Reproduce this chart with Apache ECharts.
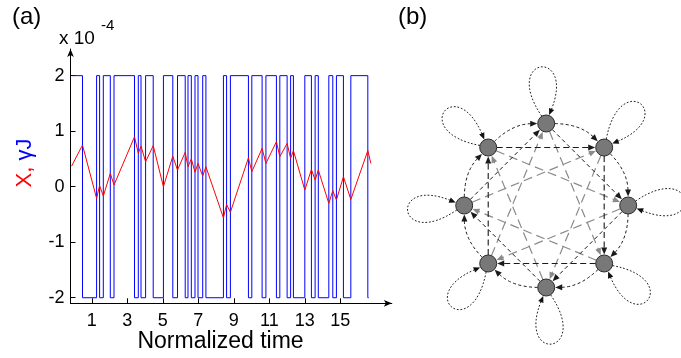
<!DOCTYPE html>
<html><head><meta charset="utf-8">
<script src="https://cdn.jsdelivr.net/npm/echarts@6/dist/echarts.min.js"></script>
<style>html,body{margin:0;padding:0;background:#fff}#c{width:681px;height:358px}</style>
</head><body><div id="c"></div>
<script>
// ---------- panel (a) data ----------
const blueTimes = [-0.14, 0.476, 1.27, 1.439, 1.648, 2.042, 2.251, 3.406, 3.62, 3.772, 4.031, 4.459, 5.034, 5.563, 5.828, 6.262, 6.42, 6.606, 6.814, 6.983, 7.248, 7.428,
  8.414, 8.594, 8.808, 9.823, 10.014, 10.594, 10.808, 11.4, 11.592, 12.003, 12.2, 12.358, 13.0, 13.372, 13.58, 13.76, 14.352, 14.577, 14.78, 15.175, 15.592, 16.549, 16.6];
const blueLevels = [2, -2, 2, -2, 2, -2, 2, -2, 2, -2, 2, -2, 2, -2, 2, -2, 2, -2, 2, -2, 2, -2,
  2, -2, 2, -2, 2, -2, 2, -2, 2, -2, 2, -2, 2, -2, 2, -2, 2, -2, 2, -2, 2, -2, -2];
const redTimes = [-0.14, 0.476, 1.27, 1.439, 1.648, 2.042, 2.251, 3.406, 3.62, 3.772, 4.031, 4.459, 5.034, 5.563, 5.828, 6.262, 6.42, 6.606, 6.814, 6.983, 7.248, 7.428,
  8.414, 8.594, 8.808, 9.823, 10.014, 10.594, 10.808, 11.4, 11.592, 12.003, 12.2, 12.358, 13.0, 13.372, 13.58, 13.76, 14.352, 14.577, 14.78, 15.175, 15.592, 16.549, 16.72];
const redValues = [0.37, 0.75, -0.21, 0.02, -0.17, 0.24, 0.03, 0.9, 0.6, 0.73, 0.45, 0.74, 0.0, 0.55, 0.3, 0.62, 0.36, 0.5, 0.26, 0.42, 0.19, 0.36,
  -0.56, -0.32, -0.46, 0.52, 0.27, 0.69, 0.42, 0.81, 0.54, 0.78, 0.51, 0.65, -0.06, 0.31, 0.12, 0.3, -0.3, -0.07, -0.24, 0.18, -0.23, 0.65, 0.42];
const xTickValues = [1, 3, 5, 7, 9, 11, 13, 15];
const yTickValues = [-2, -1, 0, 1, 2];

// ---------- panel (b) data ----------
const nodeNames = ['1', '2', '3', '4', '5', '6', '7', '8'];
const nodeAngles = [90, 45, 0, -45, -90, -135, 180, 135];
const ringLinks = [[0, 1], [1, 2], [2, 3], [3, 4], [4, 5], [5, 6], [6, 7], [7, 0]];
const squareLinks = [[7, 1], [1, 3], [3, 5], [5, 7]];
const diamondLinks = [[6, 0], [0, 2], [2, 4], [4, 6]];
const starLinks = [[5, 0], [6, 1], [7, 2], [0, 3], [1, 4], [2, 5], [3, 6], [4, 7]];
const selfLoops = [0, 1, 2, 3, 4, 5, 6, 7];

const FONT = "'Liberation Sans', Arial, Helvetica, sans-serif";
const chart = echarts.init(document.getElementById('c'));
const bluePoints = blueTimes.map((t, i) => [t, blueLevels[i]]);
const redPoints = redTimes.map((t, i) => [t, redValues[i]]);
const nodePos = nodeAngles.map(a => [Math.cos(a * Math.PI / 180), Math.sin(a * Math.PI / 180)]);
const NODE_R = 8.5;

function unit(a, b) { const x = b[0] - a[0], y = b[1] - a[1], l = Math.hypot(x, y) || 1; return [x / l, y / l]; }
function arrowHead(E, u, len, w, color) {
  const B = [E[0] - u[0] * len, E[1] - u[1] * len], n = [-u[1], u[0]];
  return { type: 'polygon', shape: { points: [E, [B[0] + n[0] * w, B[1] + n[1] * w], [B[0] - n[0] * w, B[1] - n[1] * w]] },
    style: { fill: color, stroke: null } };
}
function edgeRenderer(st) {
  return function (params, api) {
    const s = api.value(0), d = api.value(1);
    const P1 = api.coord(nodePos[s]), P2 = api.coord(nodePos[d]), O = api.coord([0, 0]);
    const len = Math.hypot(P2[0] - P1[0], P2[1] - P1[1]);
    const M = [(P1[0] + P2[0]) / 2, (P1[1] + P2[1]) / 2];
    let C = M;
    if (st.curv) {
      const nv = unit(O, M);
      C = [M[0] + nv[0] * st.curv * len, M[1] + nv[1] * st.curv * len];
    }
    const u1 = unit(P1, C), u2 = unit(C, P2);
    const S = [P1[0] + u1[0] * NODE_R, P1[1] + u1[1] * NODE_R];
    const E = [P2[0] - u2[0] * (NODE_R + 0.5), P2[1] - u2[1] * (NODE_R + 0.5)];
    const B = [E[0] - u2[0] * (st.al - 1), E[1] - u2[1] * (st.al - 1)];
    const style = { stroke: st.color, lineWidth: st.width, lineDash: st.dash, fill: null };
    const line = st.curv
      ? { type: 'bezierCurve', shape: { x1: S[0], y1: S[1], cpx1: C[0], cpy1: C[1], x2: B[0], y2: B[1] }, style }
      : { type: 'line', shape: { x1: S[0], y1: S[1], x2: B[0], y2: B[1] }, style };
    return { type: 'group', children: [line, arrowHead(E, u2, st.al, st.aw, st.color)] };
  };
}
function loopRenderer(params, api) {
  const k = api.value(0);
  const P = api.coord(nodePos[k]), O = api.coord([0, 0]);
  const phi = Math.atan2(P[1] - O[1], P[0] - O[0]) - 6 * Math.PI / 180;
  const d2r = Math.PI / 180, L = 82;
  const at = (r, a) => [P[0] + r * Math.cos(a), P[1] + r * Math.sin(a)];
  const P0 = at(NODE_R, phi - 25 * d2r), P3 = at(NODE_R + 0.5, phi + 25 * d2r);
  const C1 = at(L, phi - 28 * d2r), C2 = at(L, phi + 28 * d2r);
  const u = unit(C2, P3);
  const B = [P3[0] - u[0] * 5, P3[1] - u[1] * 5];
  return { type: 'group', children: [
    { type: 'bezierCurve', shape: { x1: P0[0], y1: P0[1], cpx1: C1[0], cpy1: C1[1], cpx2: C2[0], cpy2: C2[1], x2: B[0], y2: B[1] },
      style: { stroke: '#222', lineWidth: 1, lineDash: [1.8, 1.8], fill: null } },
    arrowHead(P3, u, 6.5, 2.8, '#111')
  ] };
}

const option = {
  animation: false,
  grid: [
    { left: 70.5, top: 49, width: 321.3, height: 254.3 },
    { left: 415, top: 74.3, width: 262.4, height: 262.4 }
  ],
  xAxis: [
    { type: 'value', gridIndex: 0, min: -0.2, max: 17.9,
      axisLine: { onZero: false, lineStyle: { color: '#000', width: 1 }, symbol: ['none', 'arrow'], symbolSize: [5, 8] },
      axisTick: { inside: true, length: 5, customValues: xTickValues, lineStyle: { color: '#000' } },
      axisLabel: { customValues: xTickValues, color: '#000', fontSize: 18, fontFamily: FONT, margin: 9 },
      splitLine: { show: false } },
    { type: 'value', gridIndex: 1, min: -1.6, max: 1.6, show: false }
  ],
  yAxis: [
    { type: 'value', gridIndex: 0, min: -2.1, max: 2.48,
      axisLine: { show: true, onZero: false, lineStyle: { color: '#000', width: 1 }, symbol: ['none', 'arrow'], symbolSize: [5, 8] },
      axisTick: { show: true, inside: true, length: 5, customValues: yTickValues, lineStyle: { color: '#000' } },
      axisLabel: { customValues: yTickValues, color: '#000', fontSize: 18, fontFamily: FONT, margin: 6 },
      splitLine: { show: false } },
    { type: 'value', gridIndex: 1, min: -1.6, max: 1.6, show: false }
  ],
  graphic: [
    { type: 'text', left: 12, top: 5, style: { text: '(a)', fontSize: 24, fontFamily: FONT, fill: '#000' } },
    { type: 'text', left: 398, top: 5, style: { text: '(b)', fontSize: 24, fontFamily: FONT, fill: '#000' } },
    { type: 'text', x: 59, y: 39, style: { text: 'x 10', fontSize: 19, fontFamily: FONT, fill: '#000', verticalAlign: 'middle' } },
    { type: 'text', x: 101, y: 26, style: { text: '-4', fontSize: 15, fontFamily: FONT, fill: '#000', verticalAlign: 'middle' } },
    { type: 'text', x: 220.5, y: 342, style: { text: 'Normalized time', fontSize: 23, fontFamily: FONT, fill: '#000', align: 'center', verticalAlign: 'middle' } },
    { type: 'text', x: 25, y: 163, rotation: Math.PI / 2,
      style: { text: '{r|X,} {b|γJ}', align: 'center', verticalAlign: 'middle', fontSize: 22, fontFamily: FONT,
        rich: { r: { fill: '#ff0000', color: '#ff0000', fontSize: 22, fontFamily: FONT }, b: { fill: '#0000ff', color: '#0000ff', fontSize: 22, fontFamily: FONT } } } }
  ],
  series: [
    { type: 'line', xAxisIndex: 0, yAxisIndex: 0, data: bluePoints, step: 'end', showSymbol: false, symbol: 'none',
      lineStyle: { color: '#0000ff', width: 1 }, itemStyle: { color: '#0000ff' }, z: 2 },
    { type: 'line', xAxisIndex: 0, yAxisIndex: 0, data: redPoints, showSymbol: false, symbol: 'none',
      lineStyle: { color: '#ff0000', width: 1 }, itemStyle: { color: '#ff0000' }, z: 3 },
    { type: 'custom', name: 'star', xAxisIndex: 1, yAxisIndex: 1, data: starLinks, z: 3,
      renderItem: edgeRenderer({ curv: 0, color: '#8a8a8a', width: 1.2, dash: [9, 5], al: 7, aw: 3 }) },
    { type: 'custom', name: 'ring', xAxisIndex: 1, yAxisIndex: 1, data: ringLinks, z: 4,
      renderItem: edgeRenderer({ curv: 0.2, color: '#1a1a1a', width: 1, dash: [3, 2.5], al: 7, aw: 3 }) },
    { type: 'custom', name: 'square', xAxisIndex: 1, yAxisIndex: 1, data: squareLinks, z: 4,
      renderItem: edgeRenderer({ curv: 0, color: '#1a1a1a', width: 1.1, dash: [6, 3.5], al: 7, aw: 3 }) },
    { type: 'custom', name: 'diamond', xAxisIndex: 1, yAxisIndex: 1, data: diamondLinks, z: 4,
      renderItem: edgeRenderer({ curv: 0, color: '#1a1a1a', width: 1, dash: [4, 3], al: 7, aw: 3 }) },
    { type: 'custom', name: 'loops', xAxisIndex: 1, yAxisIndex: 1, data: selfLoops.map(k => [k]), z: 4,
      renderItem: loopRenderer },
    { type: 'scatter', name: 'nodes', xAxisIndex: 1, yAxisIndex: 1, z: 6,
      data: nodePos.map((p, i) => ({ name: nodeNames[i], value: p })),
      symbol: 'circle', symbolSize: 17,
      itemStyle: { color: '#787878', borderColor: '#2a2a2a', borderWidth: 1, opacity: 1 } }
  ]
};
chart.setOption(option);
</script>
</body></html>
